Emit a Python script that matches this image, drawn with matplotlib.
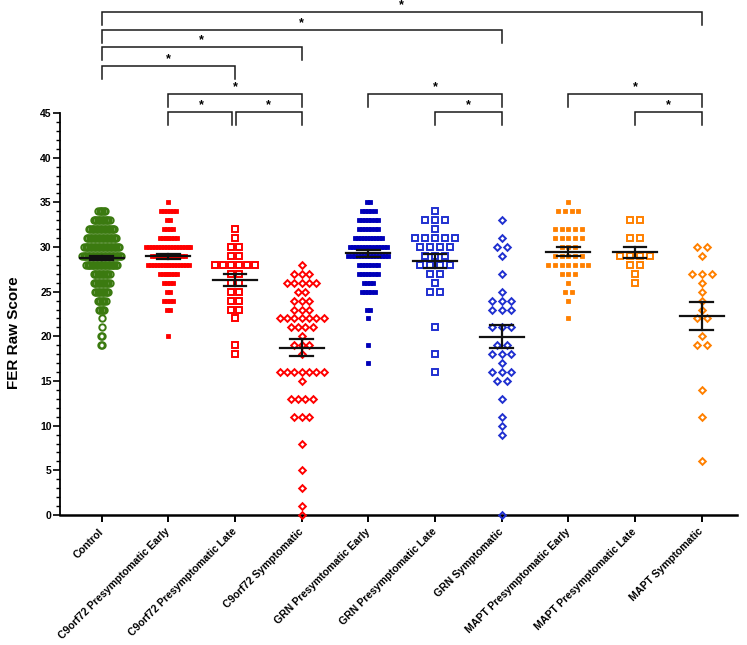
import numpy as np
import matplotlib
matplotlib.use("Agg")
import matplotlib.pyplot as plt
from matplotlib.ticker import MultipleLocator

plt.rcParams['font.family'] = ['Liberation Sans', 'DejaVu Sans']

groups = ["Control", "C9orf72 Presymptomatic Early", "C9orf72 Presymptomatic Late",
          "C9orf72 Symptomatic", "GRN Presymtomatic Early", "GRN Presymptomatic Late",
          "GRN Symptomatic", "MAPT Presymptomatic Early", "MAPT Presymptomatic Late",
          "MAPT Symptomatic"]

# score rows and number of participants at each score
control_scores = [34, 33, 32, 31, 30, 29, 28, 27, 26, 25, 24, 23, 22, 21, 20, 19]
control_counts = [6, 13, 20, 23, 27, 30, 24, 13, 13, 11, 7, 5, 1, 1, 2, 2]
c9_early_scores = [35, 34, 33, 32, 31, 30, 29, 28, 27, 26, 25, 24, 23, 20]
c9_early_counts = [1, 6, 2, 4, 7, 16, 12, 15, 7, 4, 2, 4, 2, 1]
c9_late_scores = [32, 31, 30, 29, 28, 27, 26, 25, 24, 23, 22, 19, 18]
c9_late_counts = [1, 1, 2, 2, 6, 2, 2, 2, 2, 2, 1, 1, 1]
c9_symp_scores = [28, 27, 26, 25, 24, 23, 22, 21, 20, 19, 18, 16, 15, 13, 11, 8, 5, 3, 1, 0]
c9_symp_counts = [1, 3, 5, 2, 3, 3, 7, 4, 1, 3, 1, 7, 1, 4, 3, 1, 1, 1, 1, 1]
grn_early_scores = [35, 34, 33, 32, 31, 30, 29, 28, 27, 26, 25, 23, 22, 19, 17]
grn_early_counts = [2, 5, 7, 7, 10, 13, 14, 7, 7, 4, 5, 2, 1, 1, 1]
grn_late_scores = [34, 33, 32, 31, 30, 29, 28, 27, 26, 25, 21, 18, 16]
grn_late_counts = [1, 3, 1, 5, 4, 3, 4, 2, 1, 2, 1, 1, 1]
grn_symp_scores = [33, 31, 30, 29, 27, 25, 24, 23, 21, 19, 18, 17, 16, 15, 13, 11, 10, 9, 0]
grn_symp_counts = [1, 1, 2, 1, 1, 1, 3, 3, 3, 2, 3, 1, 3, 2, 1, 1, 1, 1, 1]
mapt_early_scores = [35, 34, 32, 31, 30, 29, 28, 27, 26, 25, 24, 22]
mapt_early_counts = [1, 4, 5, 5, 3, 5, 7, 3, 1, 2, 1, 1]
mapt_late_scores = [33, 31, 29, 28, 27, 26]
mapt_late_counts = [2, 2, 4, 2, 1, 1]
mapt_symp_scores = [30, 29, 27, 26, 25, 24, 23, 22, 20, 19, 14, 11, 6]
mapt_symp_counts = [2, 1, 3, 1, 1, 1, 1, 2, 1, 2, 1, 1, 1]

all_scores = [control_scores, c9_early_scores, c9_late_scores, c9_symp_scores,
              grn_early_scores, grn_late_scores, grn_symp_scores,
              mapt_early_scores, mapt_late_scores, mapt_symp_scores]
all_counts = [control_counts, c9_early_counts, c9_late_counts, c9_symp_counts,
              grn_early_counts, grn_late_counts, grn_symp_counts,
              mapt_early_counts, mapt_late_counts, mapt_symp_counts]

# significant pairs (group index a, group index b) and bracket height
sig_pairs = [(0, 9), (0, 6), (0, 3), (0, 2), (1, 3), (1, 2), (2, 3), (4, 6), (5, 6), (7, 9), (8, 9)]
sig_levels = [56.3, 54.3, 52.4, 50.3, 47.1, 45.1, 45.1, 47.1, 45.1, 47.1, 45.1]

green = '#3b7a10'
red = '#ff0000'
blue = '#0000b8'
blue2 = '#2030d0'
orange = '#ff8000'
# style per group: colour, marker, size, filled, horizontal spacing (x units)
styles = [
    (green, 'o', 4.6, False, 0.02),
    (red, 's', 2.5, True, 0.044),
    (red, 's', 4.0, False, 0.12),
    (red, 'D', 3.4, False, 0.11),
    (blue, 's', 3.1, True, 0.046),
    (blue2, 's', 4.0, False, 0.147),
    (blue2, 'D', 3.4, False, 0.146),
    (orange, 's', 3.4, True, 0.10),
    (orange, 's', 4.0, False, 0.146),
    (orange, 'D', 3.4, False, 0.148),
]

fig = plt.figure(figsize=(7.47, 6.45), dpi=100)
ax = fig.add_axes([60 / 747, 130 / 645, 677 / 747, 402 / 645])

for i, (sc, ct) in enumerate(zip(all_scores, all_counts)):
    col, mk, ms, filled, sp = styles[i]
    xs, ys = [], []
    for s, n in zip(sc, ct):
        off = (np.arange(n) - (n - 1) / 2) * sp
        xs.extend(i + off)
        ys.extend([s] * n)
    if filled:
        ax.plot(xs, ys, ls='none', marker=mk, ms=ms, mfc=col, mec=col, mew=0.6, clip_on=False, zorder=3)
    else:
        ax.plot(xs, ys, ls='none', marker=mk, ms=ms, mfc='none', mec=col, mew=1.4, clip_on=False, zorder=3)
    vals = np.repeat(sc, ct)
    m = vals.mean()
    se = vals.std(ddof=1) / np.sqrt(len(vals))
    ax.plot([i - 0.33, i + 0.33], [m, m], color='#111111', lw=1.6, zorder=5)
    ax.plot([i, i], [m - se, m + se], color='#111111', lw=1.6, zorder=5)
    for y in (m - se, m + se):
        ax.plot([i - 0.17, i + 0.17], [y, y], color='#111111', lw=1.6, zorder=5)

for (a, b), lev in zip(sig_pairs, sig_levels):
    xa, xb = a, b
    if (a, b) == (1, 2):
        xb = b - 0.05
    if (a, b) == (2, 3):
        xa = a + 0.01
    ax.plot([xa, xa, xb, xb], [lev - 1.45, lev, lev, lev - 1.45], color='#1a1a1a', lw=1.1,
            clip_on=False, solid_joinstyle='miter')
    ax.text((a + b) / 2, lev + 0.75, '*', ha='center', va='center', fontsize=9, fontweight='bold')

ax.set_xlim(-0.627, 9.53)
ax.set_ylim(0, 45)
ax.spines['top'].set_visible(False)
ax.spines['right'].set_visible(False)
ax.spines['left'].set_linewidth(1.3)
ax.spines['bottom'].set_linewidth(1.8)
ax.yaxis.set_major_locator(MultipleLocator(5))
ax.yaxis.set_minor_locator(MultipleLocator(1))
ax.tick_params(axis='y', which='major', length=5, width=1.2, labelsize=7.5, pad=1)
ax.tick_params(axis='y', which='minor', length=3, width=1.0)
ax.tick_params(axis='x', length=5, width=1.4, pad=3)
for lab in ax.get_yticklabels():
    lab.set_fontweight('bold')
ax.set_xticks(range(len(groups)))
ax.set_xticklabels(groups, rotation=45, ha='right', va='center', rotation_mode='anchor',
                   fontsize=7.6, fontweight='bold')
for lab in ax.get_xticklabels():
    lab.set_y(-0.01)
fig.text(14 / 747, 1 - 333 / 645, 'FER Raw Score', rotation=90, ha='center', va='center',
         fontsize=11, fontweight='bold')

fig.savefig('out.png', dpi=100)
